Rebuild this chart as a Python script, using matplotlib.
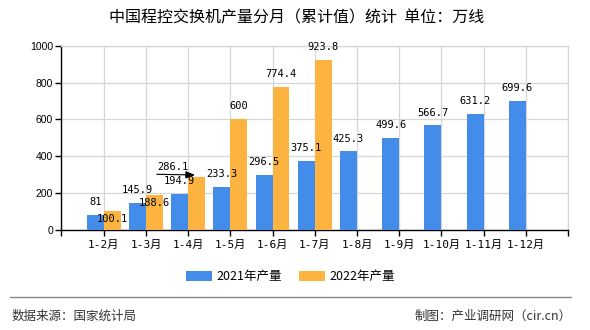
import numpy as np
import matplotlib.pyplot as plt
from matplotlib.transforms import offset_copy

plt.rcParams['font.family'] = ['Noto Sans CJK SC', 'DejaVu Sans']

# data
months = ['1-2月', '1-3月', '1-4月', '1-5月', '1-6月', '1-7月',
          '1-8月', '1-9月', '1-10月', '1-11月', '1-12月']
prod_2021 = [81, 145.9, 194.9, 233.3, 296.5, 375.1, 425.3, 499.6, 566.7, 631.2, 699.6]
prod_2022 = [100.1, 188.6, 286.1, 600, 774.4, 923.8]
label_2021 = ['81', '145.9', '194.9', '233.3', '296.5', '375.1', '425.3',
              '499.6', '566.7', '631.2', '699.6']
label_2022 = ['100.1', '188.6', '286.1', '600', '774.4', '923.8']

blue = '#448CEA'
orange = '#FCB33F'
grid_c = '#d6d6d6'

fig = plt.figure(figsize=(5.9, 3.3), dpi=100)
ax = fig.add_axes([0.1042, 0.3039, 0.8585, 0.5576])

x = np.arange(1, len(months) + 1)
w = 0.4
ax.bar(x, prod_2021, width=-w, align='edge', color=blue, label='2021年产量', zorder=3)
x2 = x[:len(prod_2022)]
ax.bar(x2, prod_2022, width=w, align='edge', color=orange, label='2022年产量', zorder=3)

ax.set_xlim(0, 12)
ax.set_ylim(0, 1000)
ax.set_yticks(np.arange(0, 1001, 200))
ax.set_xticks(np.arange(0, 13))
ax.set_xticklabels([''] + months + [''])

ax.grid(True, color=grid_c, lw=0.9, zorder=0)
ax.set_axisbelow(True)
for s in ['top', 'right']:
    ax.spines[s].set_color(grid_c)
    ax.spines[s].set_linewidth(0.9)
for s in ['left', 'bottom']:
    ax.spines[s].set_color('black')
    ax.spines[s].set_linewidth(1.0)

ax.tick_params(axis='y', length=4, width=1, colors='black', pad=2,
               labelsize=7.5, labelfontfamily='Liberation Sans')
ax.tick_params(axis='x', length=4, width=1, colors='black', pad=3)
for t in ax.get_xticklabels():
    t.set_family(['DejaVu Sans Mono', 'Noto Sans CJK SC'])
    t.set_fontsize(8)

mono = dict(family='DejaVu Sans Mono', fontsize=7.5, ha='center', va='center', zorder=5)

# 2021 labels
for xi, v, lab in zip(x, prod_2021, label_2021):
    ax.annotate(lab, (xi - w / 2, v), xytext=(0, 9.3), textcoords='offset points', **mono)

# 2022 labels (a few were pushed around in the original)
offsets_2022 = [(0, -5.4), (0, -5.8), (-17, 7.4), (0, 9.3), (0, 9.3), (0, 9.3)]
for xi, v, lab, off in zip(x2, prod_2022, label_2022, offsets_2022):
    ax.annotate(lab, (xi + w / 2, v), xytext=off, textcoords='offset points', **mono)

# leader arrow for 286.1
tip = offset_copy(ax.transData, fig=fig, x=-1.1, y=1.5, units='points')
ax.annotate('', xy=(x2[2] + w / 2, prod_2022[2]), xycoords=tip,
            xytext=(-27.5, 0.5), textcoords='offset points',
            arrowprops=dict(arrowstyle='-|>,head_length=0.55,head_width=0.22',
                            color='black', lw=0.8, shrinkA=0, shrinkB=0,
                            mutation_scale=10), zorder=6)

fig.text(0.502, 0.947, '中国程控交换机产量分月（累计值）统计  单位：万线',
         ha='center', va='center', fontsize=11.5, color='black')

fig.legend(loc='center', bbox_to_anchor=(0.492, 0.161), ncol=2, frameon=False,
           fontsize=9, handlelength=2.1, handleheight=0.75, handletextpad=0.3,
           columnspacing=1.4)

fig.add_artist(plt.Line2D([10 / 590, 571 / 590], [1 - 297.3 / 330] * 2,
                          color='#888888', lw=1.0))
fig.text(12 / 590, 1 - 316 / 330, '数据来源：国家统计局', ha='left', va='center',
         fontsize=9, color='#333333')
fig.text(572 / 590, 1 - 316 / 330, '制图：产业调研网（cir.cn）', ha='right', va='center',
         fontsize=9, color='#333333')

fig.savefig('out.png', dpi=100)
